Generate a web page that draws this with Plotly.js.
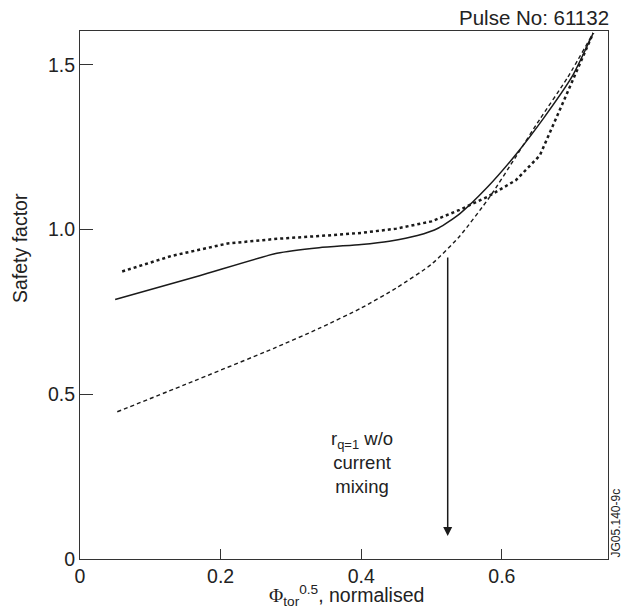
<!DOCTYPE html>
<html>
<head>
<meta charset="utf-8">
<script src="https://cdn.plot.ly/plotly-3.0.1.min.js"></script>
<style>
html,body{margin:0;padding:0;background:#fff;}
#chart{width:623px;height:611px;}
</style>
</head>
<body>
<div id="chart"></div>
<script>
// Solid curve
const solidX = [0.05, 0.17, 0.28, 0.34, 0.40, 0.44, 0.48, 0.51, 0.54, 0.58, 0.62, 0.66, 0.70, 0.73];
const solidY = [0.788, 0.86, 0.928, 0.945, 0.955, 0.965, 0.982, 1.005, 1.048, 1.13, 1.228, 1.34, 1.465, 1.597];
// Dotted curve
const dotX = [0.06, 0.13, 0.21, 0.28, 0.35, 0.40, 0.45, 0.50, 0.54, 0.58, 0.62, 0.654, 0.69, 0.73];
const dotY = [0.873, 0.92, 0.958, 0.972, 0.982, 0.99, 1.003, 1.025, 1.06, 1.10, 1.15, 1.225, 1.40, 1.597];
// Dashed curve
const dashX = [0.053, 0.15, 0.275, 0.34, 0.40, 0.45, 0.50, 0.54, 0.583, 0.621, 0.654, 0.693, 0.73];
const dashY = [0.447, 0.53, 0.639, 0.70, 0.762, 0.823, 0.895, 0.98, 1.10, 1.225, 1.335, 1.46, 1.597];

const xTicks = [0, 0.2, 0.4, 0.6];
const xTickText = ["0", "0.2", "0.4", "0.6"];
const yTicks = [0, 0.5, 1.0, 1.5];
const yTickText = ["0", "0.5", "1.0", "1.5"];

const arrowX = 0.523;
const arrowTop = 0.92;
const arrowBottom = 0.07;

const ink = "#1a1a1a";
const txt = "#222";
const fam = "Liberation Sans, Arial, Helvetica, sans-serif";

const traces = [
  {x: solidX, y: solidY, mode: "lines", line: {color: ink, width: 1.5, shape: "spline", smoothing: 0.6}, hoverinfo: "skip"},
  {x: dotX, y: dotY, mode: "lines", line: {color: ink, width: 2.5, dash: "dot", shape: "linear"}, hoverinfo: "skip"},
  {x: dashX, y: dashY, mode: "lines", line: {color: ink, width: 1.4, dash: "4px,3px", shape: "spline", smoothing: 0.6}, hoverinfo: "skip"}
];

const layout = {
  width: 623, height: 611,
  margin: {l: 80, r: 15, t: 31, b: 52},
  paper_bgcolor: "#fff", plot_bgcolor: "#fff",
  showlegend: false,
  font: {family: fam, color: txt, size: 19},
  xaxis: {
    range: [0, 0.751], tickvals: xTicks, ticktext: xTickText,
    ticks: "inside", ticklen: 10, tickwidth: 1, tickcolor: "#333",
    showline: true, linecolor: "#333", linewidth: 1, mirror: true,
    showgrid: false, zeroline: false,
    tickfont: {size: 19.5, family: fam, color: txt}
  },
  yaxis: {
    range: [0, 1.603], tickvals: yTicks, ticktext: yTickText,
    ticks: "inside", ticklen: 13, tickwidth: 1, tickcolor: "#333",
    showline: true, linecolor: "#333", linewidth: 1, mirror: true,
    showgrid: false, zeroline: false,
    tickfont: {size: 19.5, family: fam, color: txt}
  },
  annotations: [
    {x: arrowX, y: arrowBottom, ax: arrowX, ay: arrowTop, xref: "x", yref: "y", axref: "x", ayref: "y",
     text: "", showarrow: true, arrowhead: 2, arrowsize: 1.2, arrowwidth: 1.5, arrowcolor: ink},
    {x: 0.401, y: 0.292, xref: "x", yref: "y", showarrow: false, align: "center",
     text: "r<sub>q=1</sub> w/o<br>current<br>mixing", font: {size: 18.5, family: fam, color: txt}},
    {x: 1, y: 1, xref: "paper", yref: "paper", xanchor: "right", yanchor: "bottom", yshift: 0, xshift: 3, showarrow: false,
     text: "Pulse No: 61132", font: {size: 20.5, family: fam, color: txt}},
    {x: 1, y: 0, xref: "paper", yref: "paper", xanchor: "left", yanchor: "bottom", xshift: -1, showarrow: false, textangle: -90,
     borderpad: 0, text: "JG05.140-9c", font: {size: 12, family: fam, color: txt}},
    {x: -0.1136, y: 0.589, xref: "paper", yref: "paper", xanchor: "center", yanchor: "middle", showarrow: false, textangle: -90,
     text: "Safety factor", font: {size: 19.5, family: fam, color: txt}},
    {x: 0.505, y: -0.069, xref: "paper", yref: "paper", xanchor: "center", yanchor: "middle", showarrow: false, borderpad: 0,
     text: "<span style=\"font-family:'Liberation Serif',serif\">Φ</span><sub>tor</sub><sup>0.5</sup>, normalised", font: {size: 19.5, family: fam, color: txt}}
  ]
};

Plotly.newPlot("chart", traces, layout, {displayModeBar: false, staticPlot: true});
</script>
</body>
</html>
